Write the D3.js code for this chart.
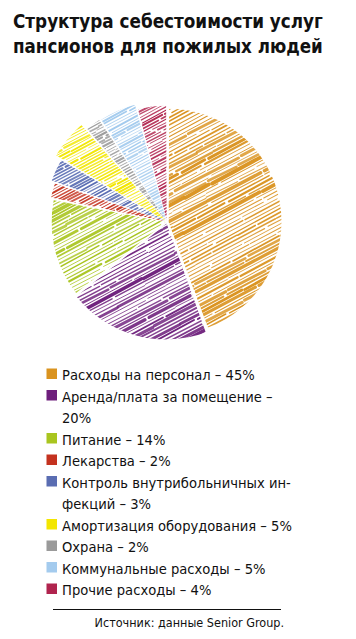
<!DOCTYPE html>
<html><head><meta charset="utf-8">
<script src="https://cdn.jsdelivr.net/npm/d3@7/dist/d3.min.js"></script>
<style>body{margin:0;background:#fff}svg{display:block}</style>
</head><body>
<script>
const titleLines = ["Структура себестоимости услуг", "пансионов для пожилых людей"];
const categories = ["Расходы на персонал", "Аренда/плата за помещение", "Питание", "Лекарства",
  "Контроль внутрибольничных инфекций", "Амортизация оборудования", "Охрана", "Коммунальные расходы", "Прочие расходы"];
const values = [45, 20, 14, 2, 3, 5, 2, 5, 4];
const legendLines = [
  ["Расходы на персонал – 45%"],
  ["Аренда/плата за помещение –", "20%"],
  ["Питание – 14%"],
  ["Лекарства – 2%"],
  ["Контроль внутрибольничных ин-", "фекций – 3%"],
  ["Амортизация оборудования – 5%"],
  ["Охрана – 2%"],
  ["Коммунальные расходы – 5%"],
  ["Прочие расходы – 4%"]
];
const colors = ["#DA931F", "#6E1F7C", "#A9C51F", "#C4321F", "#5A6DB2", "#F3E600", "#9A9A9A", "#A4CBEE", "#B0244E"];
const sourceText = "Источник: данные Senior Group.";

// style: per-slice outer radius (reference slices are hand-drawn with uneven radii)
const sliceRadius = [113, 116, 114, 117, 121, 128, 121, 120, 115];

const W = 356, H = 639;
const svg = d3.select("body").append("svg").attr("width", W).attr("height", H);
const defs = svg.append("defs");

// Title
const title = svg.append("g");
titleLines.forEach((t, i) => {
  const el = title.append("text").attr("x", 13).attr("y", 28 + i * 25.5)
    .attr("font-family", "'DejaVu Sans Condensed', 'DejaVu Sans', sans-serif")
    .attr("font-weight", "bold").attr("font-size", 20).attr("fill", "#111").text(t);
  const w = el.node().getComputedTextLength();
  el.attr("transform", `translate(13,0) scale(${310 / w},1) translate(-13,0)`);
});

// Pie
const cx = 167, cy = 222;
const pie = d3.pie().sort(null).value(d => d).padAngle(0.012);
const arcs = pie(values);
const pieG = svg.append("g").attr("transform", `translate(${cx},${cy})`);
function hash(n) { const s = Math.sin(n * 12.9898) * 43758.5453; return s - Math.floor(s); }

arcs.forEach((a, i) => {
  const r = sliceRadius[i];
  const arc = d3.arc().innerRadius(0).outerRadius(r);
  const mid = (a.startAngle + a.endAngle) / 2;
  const off = 1.5;
  const g = pieG.append("g").attr("transform", `translate(${Math.sin(mid) * off},${-Math.cos(mid) * off})`);
  const cid = "clip" + i;
  defs.append("clipPath").attr("id", cid).append("path").attr("d", arc(a));
  const hg = g.append("g").attr("clip-path", `url(#${cid})`)
    .append("g").attr("transform", "rotate(-28)");
  const heavy = i <= 2;
  const step = heavy ? 3.4 : 2.8;
  for (let k = -48; k <= 48; k++) {
    const y = k * step;
    const h1 = hash(k * 7 + i * 31 + 1), h2 = hash(k * 3 + i * 17 + 5);
    const sw = heavy ? 0.8 + 3.0 * h1 * h1 : 0.6 + 1.6 * h1;
    let x = -150;
    let s = 0;
    while (x < 150) {
      const len = 20 + 90 * hash(k * 13 + s * 5 + i * 7);
      const gap = 1 + 4 * hash(k * 11 + s * 3 + i * 3 + 2);
      hg.append("line").attr("x1", x).attr("y1", y + (h2 - 0.5))
        .attr("x2", x + len).attr("y2", y - (h2 - 0.5))
        .attr("stroke", colors[i]).attr("stroke-width", sw)
        .attr("stroke-opacity", 0.8 + 0.2 * h2).attr("stroke-linecap", "round");
      x += len + gap; s++;
    }
  }
});

// Legend
const legend = svg.append("g");
let row = 0;
const lx = 62, ly0 = 380, lh = 21.5;
legendLines.forEach((lines, i) => {
  const y = ly0 + row * lh;
  legend.append("rect").attr("x", 46.5).attr("y", y - 11.5).attr("width", 10.5).attr("height", 10.5)
    .attr("fill", colors[i]);
  lines.forEach((t, j) => {
    legend.append("text").attr("x", lx).attr("y", y + j * lh)
      .attr("font-family", "'DejaVu Sans Condensed', 'DejaVu Sans', sans-serif")
      .attr("font-size", 14.6).attr("fill", "#111").text(t);
  });
  row += lines.length;
});

// Source
svg.append("line").attr("x1", 53).attr("x2", 281).attr("y1", 609.5).attr("y2", 609.5)
  .attr("stroke", "#111").attr("stroke-width", 1);
svg.append("text").attr("x", 284).attr("y", 627).attr("text-anchor", "end")
  .attr("font-family", "'DejaVu Sans Condensed', 'DejaVu Sans', sans-serif")
  .attr("font-size", 12.5).attr("fill", "#111").text(sourceText);
</script>
</body></html>
